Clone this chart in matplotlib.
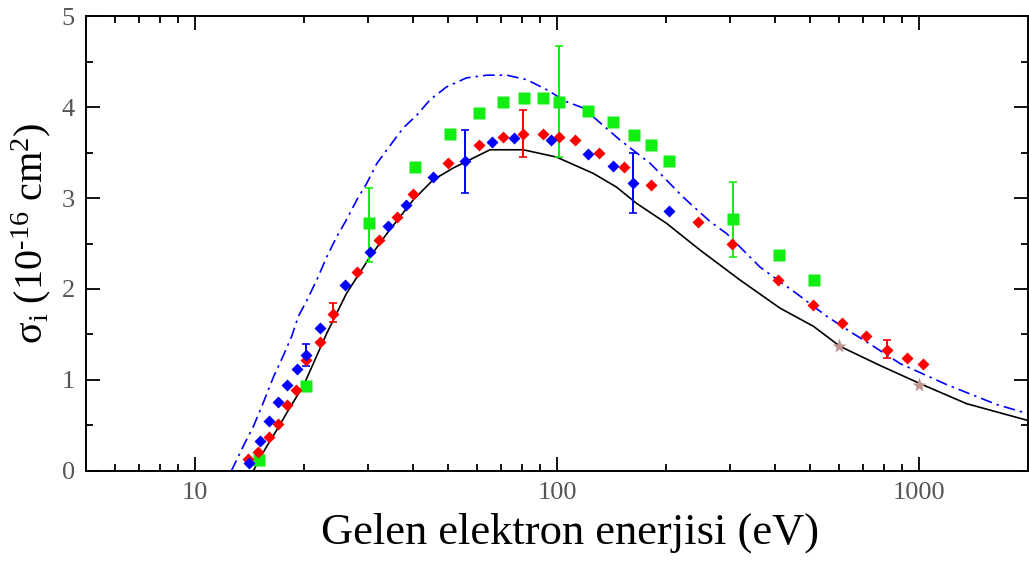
import matplotlib
matplotlib.use("Agg")
import matplotlib.pyplot as plt
import numpy as np
from matplotlib.ticker import LogLocator, MultipleLocator, FixedFormatter, FixedLocator

plt.rcParams['font.family'] = ['Liberation Serif', 'DejaVu Serif']
plt.rcParams['mathtext.fontset'] = 'custom'
plt.rcParams['mathtext.rm'] = 'Liberation Serif'
plt.rcParams['mathtext.it'] = 'Liberation Serif:italic'

# theory curves
e_black = [14.5, 15, 16, 17, 18, 20, 23.1, 26.2, 30.4, 33.9, 40.1, 45.5, 51.7, 65.3, 80.7, 99.7,
           126, 146, 166, 201, 248, 320, 413, 511, 605, 780, 1007, 1353, 2000]
s_black = [0, 0.12, 0.31, 0.48, 0.65, 0.95, 1.51, 1.95, 2.35, 2.61, 2.98, 3.2, 3.33, 3.53, 3.53, 3.45,
           3.27, 3.12, 2.94, 2.72, 2.43, 2.10, 1.79, 1.59, 1.37, 1.16, 0.96, 0.74, 0.555]

e_dash = [12.6, 13.7, 14.5, 15.4, 16.5, 17.5, 18.5, 19.3, 20.4, 21.7, 23.1, 24.6, 26.2, 28, 29.8, 31.8,
          33.9, 37.6, 41, 44.6, 49.5, 56.2, 64, 72.6, 82.5, 93.7, 106, 118, 149, 181, 223, 265, 294, 364,
          459, 556, 658, 716, 887, 1191, 1640, 2000]
s_dash = [0, 0.30, 0.49, 0.74, 1.04, 1.26, 1.48, 1.70, 1.88, 2.10, 2.35, 2.57, 2.76, 2.98, 3.16, 3.38,
          3.53, 3.77, 3.91, 4.08, 4.22, 4.32, 4.35, 4.35, 4.30, 4.19, 4.06, 3.99, 3.64, 3.38, 3.01, 2.74, 2.61, 2.24,
          1.95, 1.70, 1.51, 1.42, 1.18, 0.95, 0.73, 0.63]

# measurements
e_blue = [14.1, 15.1, 16, 17, 18, 19.1, 20.2, 22.1, 25.9, 30.4, 34.2, 38.2, 45.5, 55.7, 66.1, 76.1, 96,
          121.6, 142.6, 162.6, 204]
s_blue = [0.085, 0.325, 0.545, 0.76, 0.945, 1.12, 1.275, 1.57, 2.04, 2.41, 2.69, 2.92, 3.23, 3.41, 3.61, 3.66,
          3.64, 3.48, 3.35, 3.16, 2.86]

e_red = [14, 14.9, 16, 17, 18, 19, 20.2, 22.1, 24, 28, 32.3, 36.2, 40.1, 50.1, 60.7, 70.8, 80.3, 91.6, 101.4,
         112, 130.9, 153, 182, 245, 304, 409, 508, 613, 716, 817, 929, 1023]
s_red = [0.13, 0.21, 0.37, 0.52, 0.72, 0.89, 1.22, 1.42, 1.73, 2.19, 2.54, 2.79, 3.04, 3.39, 3.58, 3.67, 3.70,
         3.70, 3.67, 3.64, 3.50, 3.34, 3.14, 2.74, 2.49, 2.10, 1.82, 1.63, 1.48, 1.33, 1.24, 1.18]

e_green = [15, 20.2, 30.3, 40.6, 50.6, 60.7, 70.8, 81, 91.6, 101.2, 121.6, 142.6, 163, 182, 204, 307, 411, 513]
s_green = [0.12, 0.93, 2.72, 3.34, 3.70, 3.93, 4.05, 4.10, 4.10, 4.05, 3.96, 3.83, 3.69, 3.58, 3.41, 2.77, 2.37, 2.10]

e_star = [600, 1000]
s_star = [1.37, 0.94]

# error bars (energy, low, high)
eb_blue = [(20.2, 1.15, 1.40), (55.7, 3.06, 3.75), (162.6, 2.84, 3.50)]
eb_red = [(24, 1.64, 1.85), (80.3, 3.45, 3.97), (817, 1.24, 1.44)]
eb_green = [(30.3, 2.30, 3.11), (101.2, 3.45, 4.67), (307, 2.35, 3.18)]

blue = '#0000ff'
red = '#ff0000'
green = '#11ee11'

fig = plt.figure(figsize=(10.29, 5.72), dpi=100)
ax = fig.add_axes([0.0836, 0.1766, 0.9154, 0.7954])

ax.plot(e_black, s_black, color='black', lw=1.2, zorder=2)
ax.plot(e_dash, s_dash, color=blue, lw=1.2, dashes=(7, 3, 1.5, 3), zorder=2)

for eb, c in ((eb_green, green), (eb_blue, blue), (eb_red, red)):
    for e, lo, hi in eb:
        ax.errorbar([e], [(lo + hi) / 2], yerr=[[(hi - lo) / 2], [(hi - lo) / 2]], fmt='none',
                    ecolor=c, elinewidth=1.4, capsize=3, capthick=1.2, zorder=3)

ax.plot(e_green, s_green, 's', color=green, ms=8, mec='none', zorder=4)
ax.plot(e_red, s_red, 'D', color=red, ms=6.5, mec='none', zorder=5)
ax.plot(e_blue, s_blue, 'D', color=blue, ms=6.5, mec='none', zorder=6)
ax.plot(e_star, s_star, '*', color='#c09590', ms=11, mec='none', zorder=5)

ax.set_xscale('log')
ax.set_xlim(5, 2000)
ax.set_ylim(0, 5)

ax.xaxis.set_major_locator(FixedLocator([10, 100, 1000]))
ax.xaxis.set_major_formatter(FixedFormatter(['10', '100', '1000']))
ax.xaxis.set_minor_locator(LogLocator(base=10, subs=np.arange(2, 10), numticks=20))
ax.xaxis.set_minor_formatter(FixedFormatter([]))
ax.yaxis.set_major_locator(MultipleLocator(1))
ax.yaxis.set_minor_locator(MultipleLocator(0.5))

ax.tick_params(which='both', direction='in', top=True, right=True, width=1.3,
               labelsize=19, labelcolor='#555555', pad=8)
ax.tick_params(which='major', length=10)
ax.tick_params(which='minor', length=5)
for sp in ax.spines.values():
    sp.set_linewidth(1.4)

ax.set_xlabel('Gelen elektron enerjisi (eV)', fontsize=32, labelpad=6)
ax.xaxis.label.set_x(0.514)
ax.set_ylabel(r'σ$_{\mathrm{i}}$ (10$^{\mathrm{\text{-}16}}$ cm$^{\mathrm{2}}$)', fontsize=29, labelpad=6)
ax.yaxis.label.set_y(0.523)

fig.savefig('out.png', dpi=100)
